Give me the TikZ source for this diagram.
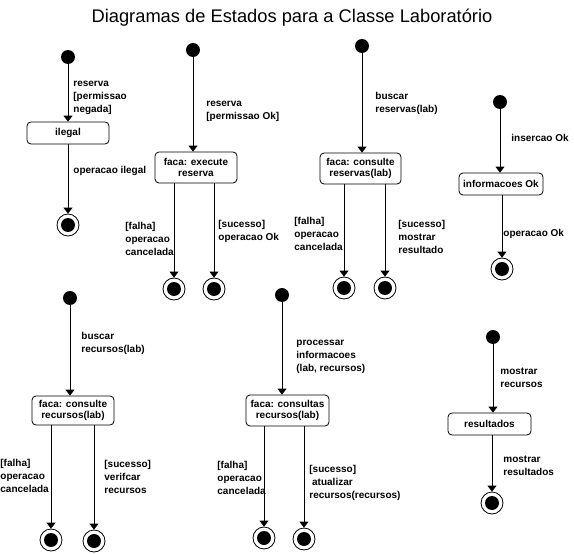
\documentclass[tikz,border=0pt]{standalone}
\usepackage{fontspec}
\setmainfont{Liberation Sans}
\usetikzlibrary{arrows.meta}

\newcommand{\rotfont}{\bfseries\fontsize{10}{13}\selectfont}
\newcommand{\estfont}{\bfseries\fontsize{10}{11}\selectfont}

\begin{document}
\begin{tikzpicture}[x=1pt, y=-1pt, >={Triangle[width=9pt,length=6pt]}, line width=0.8pt,
  inicio/.style={circle, fill, inner sep=0pt, minimum size=14pt},
  fim/.style={circle, draw, inner sep=0pt, minimum size=22pt,
    path picture={\fill (path picture bounding box.center) circle (7pt);}},
  estado/.style={draw, rounded corners=4pt, inner sep=1pt, align=center, font=\estfont},
  rotulo/.style={anchor=base west, inner sep=0pt, align=left, font=\rotfont}]
  \useasboundingbox (0,0) rectangle (574,554);
  \node[font=\fontsize{18.3}{22}\selectfont] (titulo) at (292,18) {Diagramas de Estados para a Classe Laboratório};

  % ilegal
  \node[inicio] (i1) at (68,57) {};
  \node[estado, minimum width=82pt, minimum height=22pt] (e1) at (68,133) {ilegal};
  \node[fim] (f1) at (68,225) {};
  \draw[->] (i1) -- (i1 |- e1.north);
  \draw[->] (e1.south -| f1) -- (f1);
  \node[rotulo] (r1) at (73,112) {reserva\\\relax[permissao\\negada]};
  \node[rotulo] (r2) at (73,173) {operacao ilegal};

  % execute reserva
  \node[inicio] (i2) at (193,50) {};
  \node[estado, minimum width=82pt, minimum height=31pt] (e2) at (196,167.5) {faca: execute\\reserva};
  \node[fim] (f21) at (174,289) {};
  \node[fim] (f22) at (214,289) {};
  \draw[->] (i2) -- (i2 |- e2.north);
  \draw[->] (e2.south -| f21) -- (f21);
  \draw[->] (e2.south -| f22) -- (f22);
  \node[rotulo] (r3) at (206,119) {reserva\\\relax[permissao Ok]};
  \node[rotulo] (r4) at (125,255) {[falha]\\operacao\\cancelada};
  \node[rotulo] (r5) at (218,240) {[sucesso]\\operacao Ok};

  % consulte reservas
  \node[inicio] (i3) at (362,46) {};
  \node[estado, minimum width=81pt, minimum height=31pt] (e3) at (360.5,168.5) {faca: consulte\\reservas(lab)};
  \node[fim] (f31) at (344,288) {};
  \node[fim] (f32) at (385,288) {};
  \draw[->] (i3) -- (i3 |- e3.north);
  \draw[->] (e3.south -| f31) -- (f31);
  \draw[->] (e3.south -| f32) -- (f32);
  \node[rotulo] (r6) at (375,112) {buscar\\reservas(lab)};
  \node[rotulo] (r7) at (294,250) {[falha]\\operacao\\cancelada};
  \node[rotulo] (r8) at (398,253) {[sucesso]\\mostrar\\resultado};

  % informacoes Ok
  \node[inicio] (i4) at (500,102) {};
  \node[estado, minimum width=84pt, minimum height=22pt] (e4) at (501,184) {informacoes Ok};
  \node[fim] (f4) at (502,269) {};
  \draw[->] (i4) -- (i4 |- e4.north);
  \draw[->] (e4.south -| f4) -- (f4);
  \node[rotulo] (r9) at (511,141) {insercao Ok};
  \node[rotulo] (r10) at (503,236) {operacao Ok};

  % consulte recursos
  \node[inicio] (i5) at (70,298) {};
  \node[estado, minimum width=82pt, minimum height=29pt] (e5) at (73,410.5) {faca: consulte\\recursos(lab)};
  \node[fim] (f51) at (51,540) {};
  \node[fim] (f52) at (94,541) {};
  \draw[->] (i5) -- (i5 |- e5.north);
  \draw[->] (e5.south -| f51) -- (f51);
  \draw[->] (e5.south -| f52) -- (f52);
  \node[rotulo] (r11) at (81,352) {buscar\\recursos(lab)};
  \node[rotulo] (r12) at (0,492) {[falha]\\operacao\\cancelada};
  \node[rotulo] (r13) at (104,493) {[sucesso]\\verifcar\\recursos};

  % consultas recursos
  \node[inicio] (i6) at (282,295) {};
  \node[estado, minimum width=83pt, minimum height=31pt] (e6) at (287.5,410.5) {faca: consultas\\recursos(lab)};
  \node[fim] (f61) at (264,538) {};
  \node[fim] (f62) at (304,539) {};
  \draw[->] (i6) -- (i6 |- e6.north);
  \draw[->] (e6.south -| f61) -- (f61);
  \draw[->] (e6.south -| f62) -- (f62);
  \node[rotulo] (r14) at (296,371) {processar\\informacoes\\(lab, recursos)};
  \node[rotulo] (r15) at (217,494) {[falha]\\operacao\\cancelada};
  \node[rotulo] (r16) at (309,498) {[sucesso]\\\ atualizar\\recursos(recursos)};

  % resultados
  \node[inicio] (i7) at (493,337) {};
  \node[estado, minimum width=83pt, minimum height=22pt] (e7) at (489.5,424) {resultados};
  \node[fim] (f7) at (492,503) {};
  \draw[->] (i7) -- (i7 |- e7.north);
  \draw[->] (e7.south -| f7) -- (f7);
  \node[rotulo] (r17) at (500,387) {mostrar\\recursos};
  \node[rotulo] (r18) at (503,475) {mostrar\\resultados};
\end{tikzpicture}
\end{document}
